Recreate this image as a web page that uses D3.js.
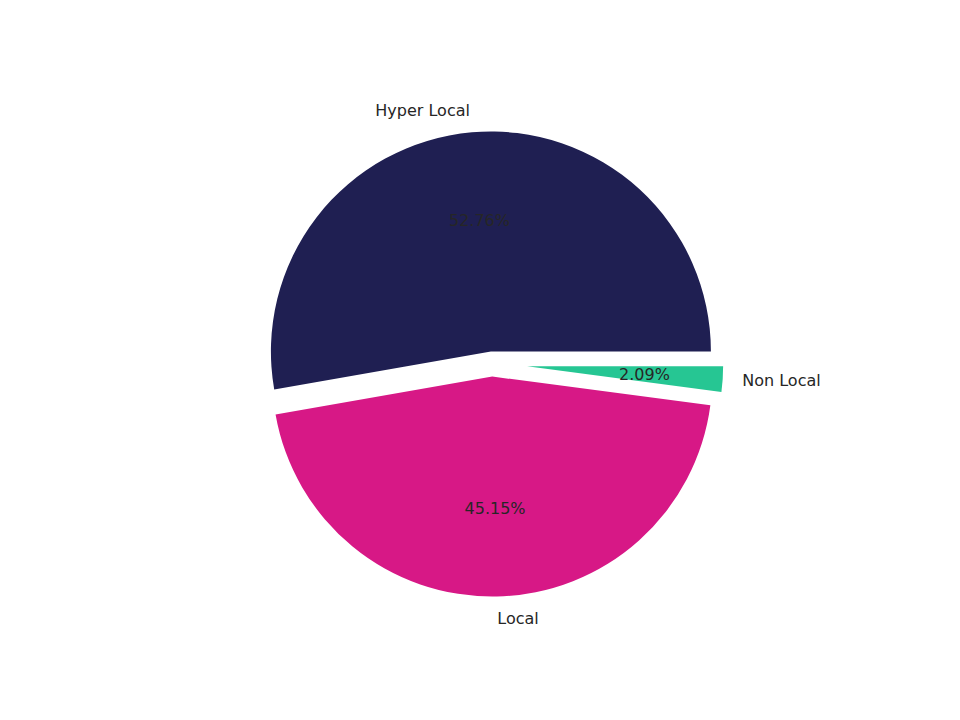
<!DOCTYPE html>
<html>
<head>
<meta charset="utf-8">
<script src="https://cdn.jsdelivr.net/npm/d3@7"></script>
<style>
  body { margin: 0; background: #fff; }
  text { font-family: "DejaVu Sans", sans-serif; font-size: 16px; fill: #262626; }
</style>
</head>
<body>
<svg id="chart" width="960" height="720"></svg>
<script>
// pie data
var categories = ["Hyper Local", "Local", "Non Local"];
var values = [52.76, 45.15, 2.09];
var explode = [0.057, 0.057, 0.16];
var colors = ["#1f1f52", "#d71886", "#26c693"];

var svg = d3.select("#chart");
var cx = 492, cy = 364, r = 220;
var radii = [r, r, 196];

// matplotlib style: start at 3 o'clock, counterclockwise
var pie = d3.pie().sort(null).startAngle(Math.PI / 2).endAngle(Math.PI / 2 - 2 * Math.PI);
var arcs = pie(values);

arcs.forEach(function(a, i) {
	var mid = (a.startAngle + a.endAngle) / 2;
	var dx = Math.sin(mid), dy = -Math.cos(mid);
	var off = explode[i] * r;
	var ox = cx + dx * off, oy = cy + dy * off;
	var rad = radii[i];
	var arc = d3.arc().innerRadius(0).outerRadius(rad);

	svg.append("path")
		.attr("d", arc({startAngle: Math.min(a.startAngle, a.endAngle), endAngle: Math.max(a.startAngle, a.endAngle)}))
		.attr("transform", "translate(" + ox + "," + oy + ")")
		.attr("fill", colors[i]);

	var lx = ox + dx * rad * 1.1, ly = oy + dy * rad * 1.1;
	svg.append("text")
		.attr("x", lx).attr("y", ly)
		.attr("dy", "0.35em")
		.attr("text-anchor", dx < 0 ? "end" : "start")
		.text(categories[i]);

	svg.append("text")
		.attr("x", ox + dx * rad * 0.6).attr("y", oy + dy * rad * 0.6)
		.attr("dy", "0.35em")
		.attr("text-anchor", "middle")
		.text(values[i].toFixed(2) + "%");
});
</script>
</body>
</html>
